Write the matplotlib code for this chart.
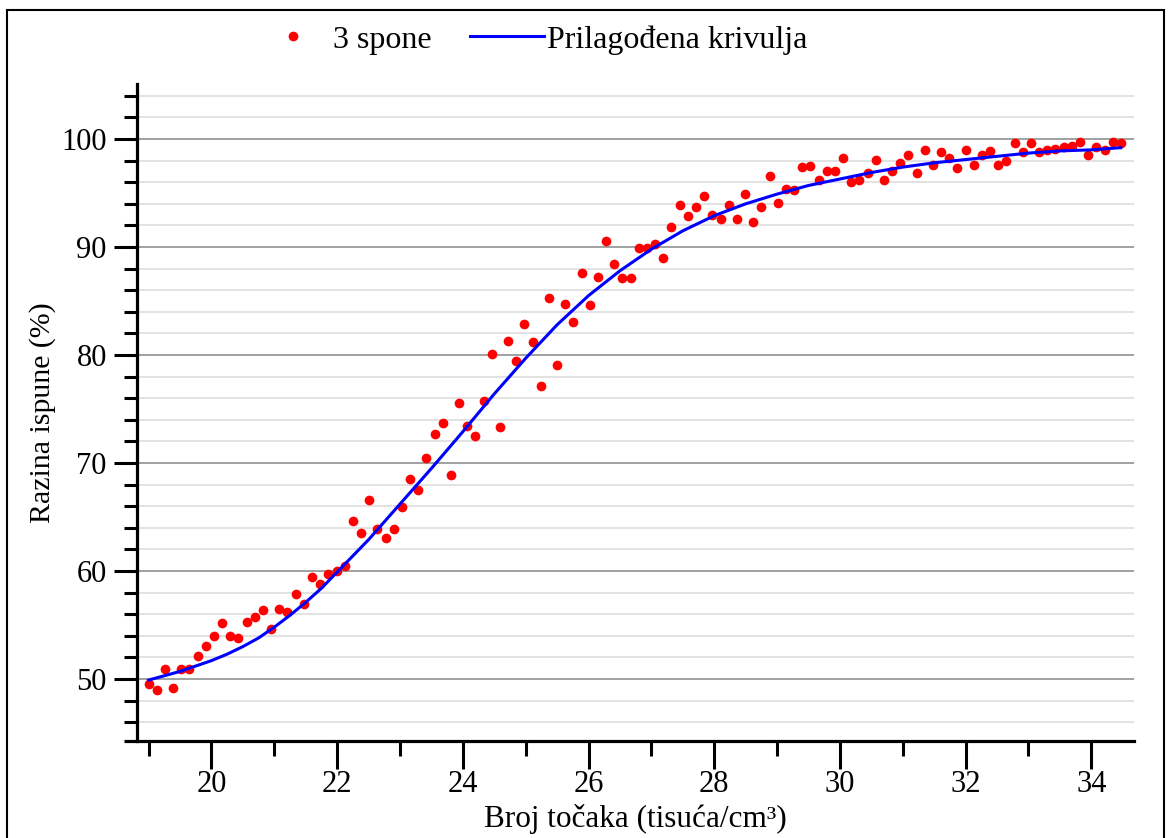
import matplotlib
matplotlib.use("Agg")
import matplotlib.pyplot as plt
from matplotlib.lines import Line2D
from matplotlib.patches import Rectangle
from matplotlib.ticker import MultipleLocator

# Measured points (3 spone)
x_points = [
    19.00, 19.13, 19.26, 19.39, 19.52, 19.65, 19.78, 19.91, 20.04, 20.17,
    20.30, 20.43, 20.56, 20.69, 20.82, 20.95, 21.08, 21.21, 21.34, 21.47,
    21.60, 21.73, 21.86, 21.99, 22.12, 22.25, 22.38, 22.51, 22.64, 22.77,
    22.90, 23.03, 23.16, 23.29, 23.42, 23.55, 23.68, 23.81, 23.94, 24.07,
    24.20, 24.33, 24.46, 24.59, 24.72, 24.85, 24.98, 25.11, 25.24, 25.37,
    25.50, 25.63, 25.76, 25.89, 26.02, 26.15, 26.28, 26.41, 26.54, 26.67,
    26.80, 26.93, 27.06, 27.19, 27.32, 27.45, 27.58, 27.71, 27.84, 27.97,
    28.10, 28.23, 28.36, 28.49, 28.62, 28.75, 28.88, 29.01, 29.14, 29.27,
    29.40, 29.53, 29.66, 29.79, 29.92, 30.05, 30.18, 30.31, 30.44, 30.57,
    30.70, 30.83, 30.96, 31.09, 31.22, 31.35, 31.48, 31.61, 31.74, 31.87,
    32.00, 32.13, 32.26, 32.39, 32.52, 32.65, 32.78, 32.91, 33.04, 33.17,
    33.30, 33.43, 33.56, 33.69, 33.82, 33.95, 34.08, 34.21, 34.34, 34.47,
]
y_points = [
    49.5, 49.0, 50.9, 49.2, 50.9, 50.9, 52.1, 53.1, 54.0, 55.2,
    54.0, 53.8, 55.3, 55.7, 56.4, 54.6, 56.5, 56.2, 57.9, 56.9,
    59.4, 58.8, 59.7, 60.0, 60.5, 64.6, 63.5, 66.6, 63.9, 63.1,
    63.9, 65.9, 68.5, 67.5, 70.5, 72.7, 73.7, 68.9, 75.6, 73.4,
    72.5, 75.7, 80.1, 73.3, 81.3, 79.4, 82.9, 81.2, 77.1, 85.3,
    79.1, 84.7, 83.1, 87.6, 84.6, 87.2, 90.6, 88.4, 87.1, 87.1,
    89.9, 89.9, 90.3, 89.0, 91.9, 93.9, 92.9, 93.7, 94.7, 93.0,
    92.6, 93.9, 92.6, 94.9, 92.3, 93.7, 96.6, 94.1, 95.4, 95.3,
    97.4, 97.5, 96.2, 97.0, 97.0, 98.2, 96.0, 96.2, 96.9, 98.1,
    96.2, 97.0, 97.8, 98.5, 96.9, 99.0, 97.6, 98.8, 98.2, 97.3,
    99.0, 97.6, 98.5, 98.9, 97.6, 98.0, 99.6, 98.8, 99.6, 98.8,
    99.0, 99.1, 99.3, 99.4, 99.7, 98.5, 99.3, 99.0, 99.7, 99.6,
]

# Fitted curve (Prilagođena krivulja)
x_fit = [
    19.0, 19.25, 19.5, 19.75, 20.0, 20.25, 20.5, 20.75, 21.0, 21.25,
    21.5, 21.75, 22.0, 22.5, 23.0, 23.5, 24.0, 24.5, 25.0, 25.5,
    26.0, 26.5, 27.0, 27.5, 28.0, 28.5, 29.0, 29.5, 30.0, 30.5,
    31.0, 31.5, 32.0, 32.5, 33.0, 33.5, 34.0, 34.47,
]
y_fit = [
    49.9, 50.3, 50.7, 51.2, 51.7, 52.3, 53.0, 53.8, 54.8, 55.9,
    57.1, 58.4, 59.9, 62.9, 66.2, 69.5, 72.9, 76.4, 79.7, 82.8,
    85.5, 87.8, 89.8, 91.5, 92.9, 94.0, 94.9, 95.7, 96.3, 96.9,
    97.4, 97.8, 98.1, 98.4, 98.7, 98.9, 99.0, 99.2,
]

x_label = "Broj točaka (tisuća/cm³)"
y_label = "Razina ispune (%)"
point_label = "3 spone"
fit_label = "Prilagođena krivulja"

plt.rcParams["font.family"] = ["Liberation Serif", "DejaVu Serif"]

fig = plt.figure(figsize=(11.69, 8.38), dpi=100)
ax = fig.add_axes([0.1169, 0.1163, 0.8532, 0.7835])

ax.plot(x_points, y_points, "o", color="#ff0000", markersize=7,
        markeredgewidth=0, label=point_label, zorder=3)
ax.plot(x_fit, y_fit, color="#0000ff", linewidth=2.2,
        label=fit_label, zorder=4)

ax.set_xlim(18.81, 34.68)
ax.set_ylim(44.3, 105.1)

ax.xaxis.set_major_locator(MultipleLocator(2))
ax.xaxis.set_minor_locator(MultipleLocator(1))
ax.yaxis.set_major_locator(MultipleLocator(10))
ax.yaxis.set_minor_locator(MultipleLocator(2))

# horizontal grid only
ax.yaxis.grid(True, which="major", color="#a0a0a0", linewidth=1.4)
ax.yaxis.grid(True, which="minor", color="#e2e2e2", linewidth=1.4)
ax.set_axisbelow(True)

for side in ("top", "right"):
    ax.spines[side].set_visible(False)
for side in ("left", "bottom"):
    ax.spines[side].set_linewidth(2.3)

# bottom axis line sticks out a little to the left, Origin style
ax.add_line(Line2D([-0.0122, 0], [0, 0], transform=ax.transAxes,
                   color="black", linewidth=2.3, clip_on=False,
                   solid_capstyle="butt"))

ax.tick_params(axis="x", which="major", direction="out", length=20,
               width=2.2, labelsize=22, pad=1)
ax.tick_params(axis="x", which="minor", direction="out", length=10.8,
               width=2.2)
ax.tick_params(axis="y", which="major", direction="out", length=16.5,
               width=2.2, labelsize=22, pad=5)
ax.tick_params(axis="y", which="minor", direction="out", length=9.4,
               width=2.2)

ax.set_xlabel(x_label, fontsize=22.5, labelpad=4)
ax.set_ylabel(y_label, fontsize=21.5, labelpad=4)

fig.legend(loc="center", bbox_to_anchor=(0.455, 0.9525), ncol=2,
           frameon=False, fontsize=23, handlelength=2.3,
           handletextpad=0.1, columnspacing=1.2)

# frame round the whole picture
fig.add_artist(Rectangle((0.0064, -0.05), 0.9893, 1.0375,
                         transform=fig.transFigure, fill=False,
                         edgecolor="black", linewidth=1.5))

fig.savefig("out.png", dpi=100)
plt.close(fig)
